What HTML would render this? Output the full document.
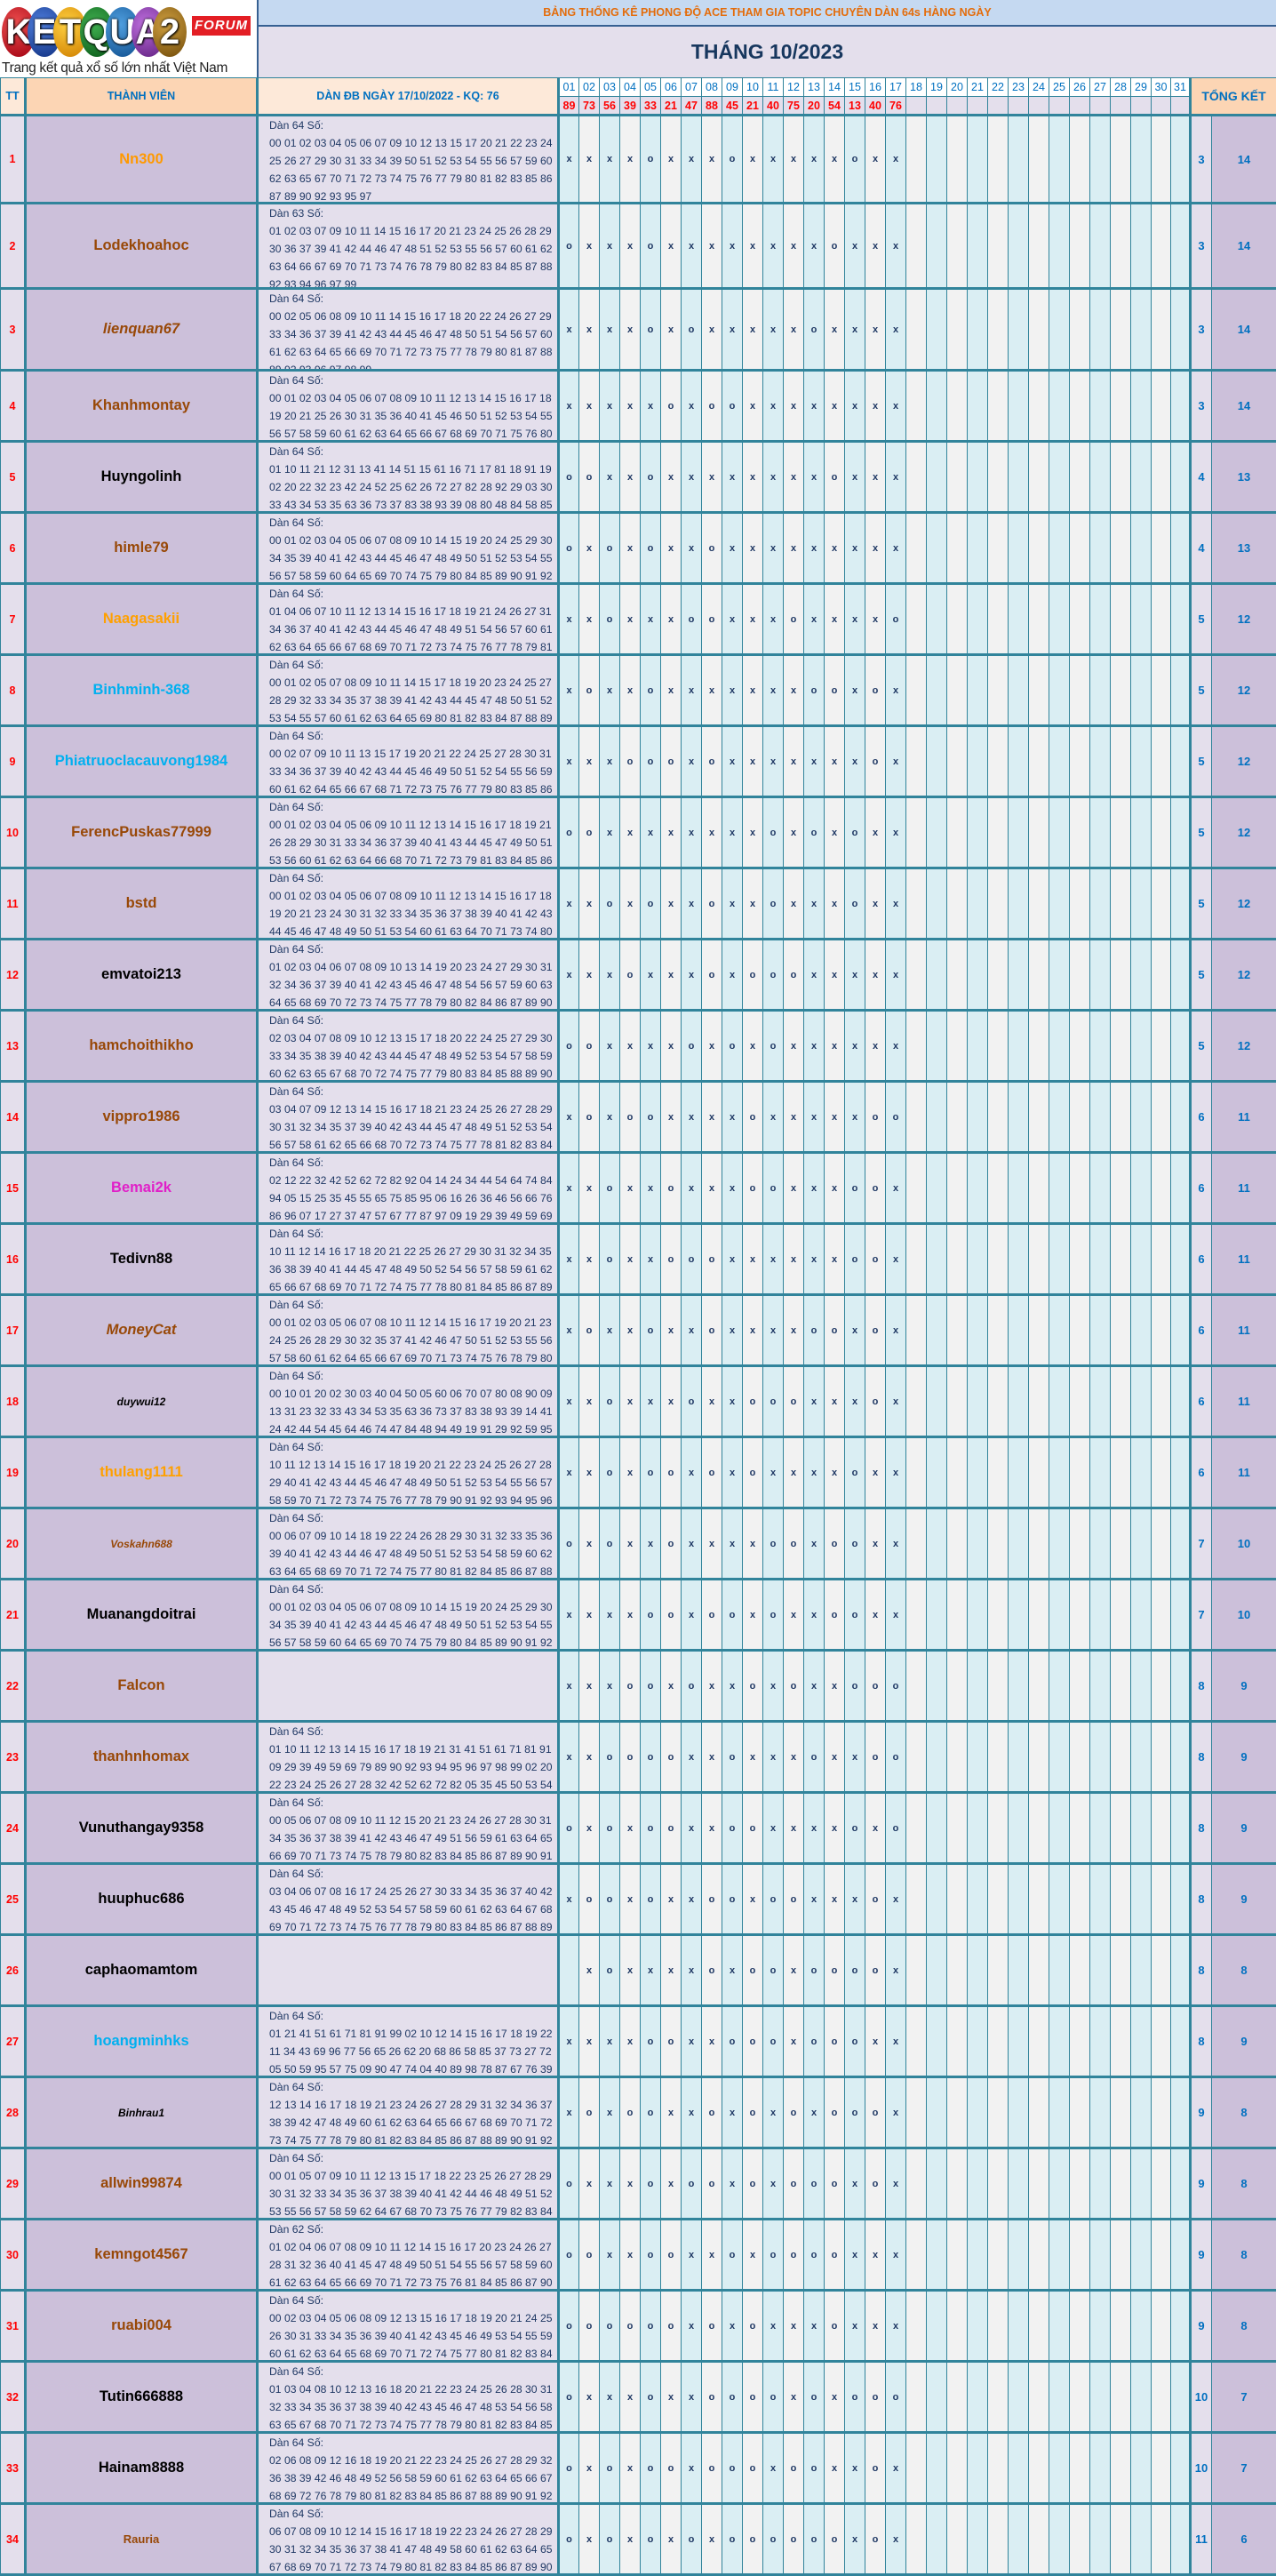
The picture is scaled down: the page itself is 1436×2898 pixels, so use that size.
<!DOCTYPE html>
<html><head><meta charset="utf-8">
<style>
*{margin:0;padding:0;box-sizing:border-box}
body{width:1436px;height:2897px;background:#fff;font-family:"Liberation Sans",sans-serif;position:relative;overflow:hidden}
#logo{position:absolute;left:0;top:0;width:289px;height:87px;background:#fff}
.ball{position:absolute;top:8px;width:38px;height:56px;border-radius:50%;color:#fff;font-weight:bold;font-size:40px;line-height:56px;text-align:center;text-shadow:0 0 3px #000,1px 1px 2px #000}
#forum{position:absolute;left:216px;top:18px;width:66px;height:22px;background:#e31e24;color:#fff;font-style:italic;font-weight:bold;font-size:15px;line-height:22px;text-align:center;letter-spacing:1px}
#tag{position:absolute;left:2px;top:68px;font-size:15.5px;color:#222;white-space:nowrap;letter-spacing:-0.3px}
#topbar{position:absolute;left:289px;top:0;width:1147px;height:30px;background:#c5d9f1;border-bottom:2px solid #366092;border-left:2px solid #366092;color:#e46c0a;font-weight:bold;font-size:12.5px;line-height:28px;text-align:center}
#title{position:absolute;left:289px;top:30px;width:1147px;height:57px;background:#e4dfec;border-left:2px solid #366092;color:#17375e;font-weight:bold;font-size:23px;line-height:57px;text-align:center}
table{position:absolute;left:0;top:87px;width:1436px;border-collapse:collapse;table-layout:fixed}
td{border:1px solid #31849b;text-align:center;vertical-align:middle;overflow:hidden;white-space:nowrap;padding:0}
.h td{font-weight:bold;color:#0070c0;font-size:12.5px;height:21px}
.h .d{background:#fff;font-weight:normal;font-size:12.5px}
.h2 td{background:#e4dfec;color:#ff0000;font-weight:bold;font-size:12.5px;height:21px;border-bottom:3px solid #31849b}
.hT{background:#fde9d9 !important}
.hN{background:#fcd5b4 !important}
.hK{background:#fcd5b4 !important;border-left:3px solid #31849b !important;font-size:14px !important}
tbody tr.r td{border-top:3px solid #31849b;border-bottom:3px solid #31849b}
.tt{background:#e4dfec;color:#ff0000;font-weight:bold;font-size:12.5px;border-right:3px solid #31849b !important}
.nm{background:#ccc0da;font-weight:bold;font-size:16.5px;border-right:3px solid #31849b !important}
.dn{background:#e4dfec;text-align:left;vertical-align:top;border-right:3px solid #31849b !important;color:#1f3864;font-size:12.2px;line-height:20px;padding-left:12px}
.dn div{overflow:hidden}
tr.r td:nth-child(n+4){font-weight:bold;font-size:11px;color:#1f3864}
tr.r td:nth-child(even){background:#daeef3}
tr.r td:nth-child(odd){background:#f2f2f2}
tr.r td.tt{background:#e4dfec}
tr.r td.dn{background:#e4dfec}
tr.r td.nm{background:#ccc0da}
tr.r td.s{background:#e4dfec;color:#0070c0;font-size:13px;border-left:3px solid #31849b}
tr.r td.b{background:#ccc0da;color:#0070c0;font-size:13px}
.or{color:#ff9900}.br{color:#984807}.bk{color:#000}.lb{color:#00b0f0}.mg{color:#e020c8}.yl{color:#ffa000}
.it{font-style:italic}.sm{font-size:12px !important}
</style></head><body>
<div id="logo">
<div class="ball" style="left:2px;background:radial-gradient(circle at 40% 35%,#f05050,#a00010)">K</div>
<div class="ball" style="left:31px;background:radial-gradient(circle at 40% 35%,#5080e0,#103080)">E</div>
<div class="ball" style="left:60px;background:radial-gradient(circle at 40% 35%,#ffd040,#d08000)">T</div>
<div class="ball" style="left:90px;background:radial-gradient(circle at 40% 35%,#40b050,#0a5a18)">Q</div>
<div class="ball" style="left:119px;background:radial-gradient(circle at 40% 35%,#50a0e0,#105090)">U</div>
<div class="ball" style="left:148px;background:radial-gradient(circle at 40% 35%,#c070e0,#602080)">A</div>
<div class="ball" style="left:172px;background:radial-gradient(circle at 40% 35%,#d0a040,#704a08)">2</div>
<div id="forum">FORUM</div>
<div id="tag">Trang kết quả xổ số lớn nhất Việt Nam</div>
</div>
<div id="topbar">BẢNG THỐNG KÊ PHONG ĐỘ ACE THAM GIA TOPIC CHUYÊN DÀN 64s HÀNG NGÀY</div>
<div id="title">THÁNG 10/2023</div>
<table>
<colgroup><col style="width:28px"><col style="width:261px"><col style="width:339px">
<col style="width:23px"><col style="width:23px"><col style="width:23px"><col style="width:23px"><col style="width:23px"><col style="width:23px"><col style="width:23px"><col style="width:23px"><col style="width:23px"><col style="width:23px"><col style="width:23px"><col style="width:23px"><col style="width:23px"><col style="width:23px"><col style="width:23px"><col style="width:23px"><col style="width:23px"><col style="width:23px"><col style="width:23px"><col style="width:23px"><col style="width:23px"><col style="width:23px"><col style="width:23px"><col style="width:23px"><col style="width:23px"><col style="width:23px"><col style="width:23px"><col style="width:23px"><col style="width:23px"><col style="width:22px"><col style="width:22px">
<col style="width:24px"><col style="width:73px"></colgroup>
<tr class="h"><td class="hT" rowspan="2" style="border-right:3px solid #31849b;border-bottom:3px solid #31849b">TT</td><td class="hN" rowspan="2" style="border-right:3px solid #31849b;border-bottom:3px solid #31849b">THÀNH VIÊN</td><td class="hT" rowspan="2" style="border-right:3px solid #31849b;border-bottom:3px solid #31849b">DÀN ĐB NGÀY 17/10/2022 - KQ: 76</td><td class="d">01</td><td class="d">02</td><td class="d">03</td><td class="d">04</td><td class="d">05</td><td class="d">06</td><td class="d">07</td><td class="d">08</td><td class="d">09</td><td class="d">10</td><td class="d">11</td><td class="d">12</td><td class="d">13</td><td class="d">14</td><td class="d">15</td><td class="d">16</td><td class="d">17</td><td class="d">18</td><td class="d">19</td><td class="d">20</td><td class="d">21</td><td class="d">22</td><td class="d">23</td><td class="d">24</td><td class="d">25</td><td class="d">26</td><td class="d">27</td><td class="d">28</td><td class="d">29</td><td class="d">30</td><td class="d">31</td><td class="hK" colspan="2" rowspan="2" style="border-bottom:3px solid #31849b">TỔNG KẾT</td></tr>
<tr class="h2"><td>89</td><td>73</td><td>56</td><td>39</td><td>33</td><td>21</td><td>47</td><td>88</td><td>45</td><td>21</td><td>40</td><td>75</td><td>20</td><td>54</td><td>13</td><td>40</td><td>76</td><td></td><td></td><td></td><td></td><td></td><td></td><td></td><td></td><td></td><td></td><td></td><td></td><td></td><td></td></tr>

<tr class="r" style="height:99px"><td class="tt">1</td><td class="nm or">Nn300</td><td class="dn"><div style="height:96px">Dàn 64 Số:<br>00 01 02 03 04 05 06 07 09 10 12 13 15 17 20 21 22 23 24<br>25 26 27 29 30 31 33 34 39 50 51 52 53 54 55 56 57 59 60<br>62 63 65 67 70 71 72 73 74 75 76 77 79 80 81 82 83 85 86<br>87 89 90 92 93 95 97</div></td><td>x</td><td>x</td><td>x</td><td>x</td><td>o</td><td>x</td><td>x</td><td>x</td><td>o</td><td>x</td><td>x</td><td>x</td><td>x</td><td>x</td><td>o</td><td>x</td><td>x</td><td></td><td></td><td></td><td></td><td></td><td></td><td></td><td></td><td></td><td></td><td></td><td></td><td></td><td></td><td class="s">3</td><td class="b">14</td></tr>
<tr class="r" style="height:96px"><td class="tt">2</td><td class="nm br">Lodekhoahoc</td><td class="dn"><div style="height:93px">Dàn 63 Số:<br>01 02 03 07 09 10 11 14 15 16 17 20 21 23 24 25 26 28 29<br>30 36 37 39 41 42 44 46 47 48 51 52 53 55 56 57 60 61 62<br>63 64 66 67 69 70 71 73 74 76 78 79 80 82 83 84 85 87 88<br>92 93 94 96 97 99</div></td><td>o</td><td>x</td><td>x</td><td>x</td><td>o</td><td>x</td><td>x</td><td>x</td><td>x</td><td>x</td><td>x</td><td>x</td><td>x</td><td>o</td><td>x</td><td>x</td><td>x</td><td></td><td></td><td></td><td></td><td></td><td></td><td></td><td></td><td></td><td></td><td></td><td></td><td></td><td></td><td class="s">3</td><td class="b">14</td></tr>
<tr class="r" style="height:92px"><td class="tt">3</td><td class="nm br it">lienquan67</td><td class="dn"><div style="height:89px">Dàn 64 Số:<br>00 02 05 06 08 09 10 11 14 15 16 17 18 20 22 24 26 27 29<br>33 34 36 37 39 41 42 43 44 45 46 47 48 50 51 54 56 57 60<br>61 62 63 64 65 66 69 70 71 72 73 75 77 78 79 80 81 87 88<br>89 92 93 96 97 98 99</div></td><td>x</td><td>x</td><td>x</td><td>x</td><td>o</td><td>x</td><td>o</td><td>x</td><td>x</td><td>x</td><td>x</td><td>x</td><td>o</td><td>x</td><td>x</td><td>x</td><td>x</td><td></td><td></td><td></td><td></td><td></td><td></td><td></td><td></td><td></td><td></td><td></td><td></td><td></td><td></td><td class="s">3</td><td class="b">14</td></tr>
<tr class="r" style="height:80px"><td class="tt">4</td><td class="nm br">Khanhmontay</td><td class="dn"><div style="height:77px">Dàn 64 Số:<br>00 01 02 03 04 05 06 07 08 09 10 11 12 13 14 15 16 17 18<br>19 20 21 25 26 30 31 35 36 40 41 45 46 50 51 52 53 54 55<br>56 57 58 59 60 61 62 63 64 65 66 67 68 69 70 71 75 76 80</div></td><td>x</td><td>x</td><td>x</td><td>x</td><td>x</td><td>o</td><td>x</td><td>o</td><td>o</td><td>x</td><td>x</td><td>x</td><td>x</td><td>x</td><td>x</td><td>x</td><td>x</td><td></td><td></td><td></td><td></td><td></td><td></td><td></td><td></td><td></td><td></td><td></td><td></td><td></td><td></td><td class="s">3</td><td class="b">14</td></tr>
<tr class="r" style="height:80px"><td class="tt">5</td><td class="nm bk">Huyngolinh</td><td class="dn"><div style="height:77px">Dàn 64 Số:<br>01 10 11 21 12 31 13 41 14 51 15 61 16 71 17 81 18 91 19<br>02 20 22 32 23 42 24 52 25 62 26 72 27 82 28 92 29 03 30<br>33 43 34 53 35 63 36 73 37 83 38 93 39 08 80 48 84 58 85</div></td><td>o</td><td>o</td><td>x</td><td>x</td><td>o</td><td>x</td><td>x</td><td>x</td><td>x</td><td>x</td><td>x</td><td>x</td><td>x</td><td>o</td><td>x</td><td>x</td><td>x</td><td></td><td></td><td></td><td></td><td></td><td></td><td></td><td></td><td></td><td></td><td></td><td></td><td></td><td></td><td class="s">4</td><td class="b">13</td></tr>
<tr class="r" style="height:80px"><td class="tt">6</td><td class="nm br">himle79</td><td class="dn"><div style="height:77px">Dàn 64 Số:<br>00 01 02 03 04 05 06 07 08 09 10 14 15 19 20 24 25 29 30<br>34 35 39 40 41 42 43 44 45 46 47 48 49 50 51 52 53 54 55<br>56 57 58 59 60 64 65 69 70 74 75 79 80 84 85 89 90 91 92</div></td><td>o</td><td>x</td><td>o</td><td>x</td><td>o</td><td>x</td><td>x</td><td>o</td><td>x</td><td>x</td><td>x</td><td>x</td><td>x</td><td>x</td><td>x</td><td>x</td><td>x</td><td></td><td></td><td></td><td></td><td></td><td></td><td></td><td></td><td></td><td></td><td></td><td></td><td></td><td></td><td class="s">4</td><td class="b">13</td></tr>
<tr class="r" style="height:80px"><td class="tt">7</td><td class="nm yl">Naagasakii</td><td class="dn"><div style="height:77px">Dàn 64 Số:<br>01 04 06 07 10 11 12 13 14 15 16 17 18 19 21 24 26 27 31<br>34 36 37 40 41 42 43 44 45 46 47 48 49 51 54 56 57 60 61<br>62 63 64 65 66 67 68 69 70 71 72 73 74 75 76 77 78 79 81</div></td><td>x</td><td>x</td><td>o</td><td>x</td><td>x</td><td>x</td><td>o</td><td>o</td><td>x</td><td>x</td><td>x</td><td>o</td><td>x</td><td>x</td><td>x</td><td>x</td><td>o</td><td></td><td></td><td></td><td></td><td></td><td></td><td></td><td></td><td></td><td></td><td></td><td></td><td></td><td></td><td class="s">5</td><td class="b">12</td></tr>
<tr class="r" style="height:80px"><td class="tt">8</td><td class="nm lb">Binhminh-368</td><td class="dn"><div style="height:77px">Dàn 64 Số:<br>00 01 02 05 07 08 09 10 11 14 15 17 18 19 20 23 24 25 27<br>28 29 32 33 34 35 37 38 39 41 42 43 44 45 47 48 50 51 52<br>53 54 55 57 60 61 62 63 64 65 69 80 81 82 83 84 87 88 89</div></td><td>x</td><td>o</td><td>x</td><td>x</td><td>o</td><td>x</td><td>x</td><td>x</td><td>x</td><td>x</td><td>x</td><td>x</td><td>o</td><td>o</td><td>x</td><td>o</td><td>x</td><td></td><td></td><td></td><td></td><td></td><td></td><td></td><td></td><td></td><td></td><td></td><td></td><td></td><td></td><td class="s">5</td><td class="b">12</td></tr>
<tr class="r" style="height:80px"><td class="tt">9</td><td class="nm lb">Phiatruoclacauvong1984</td><td class="dn"><div style="height:77px">Dàn 64 Số:<br>00 02 07 09 10 11 13 15 17 19 20 21 22 24 25 27 28 30 31<br>33 34 36 37 39 40 42 43 44 45 46 49 50 51 52 54 55 56 59<br>60 61 62 64 65 66 67 68 71 72 73 75 76 77 79 80 83 85 86</div></td><td>x</td><td>x</td><td>x</td><td>o</td><td>o</td><td>o</td><td>x</td><td>o</td><td>x</td><td>x</td><td>x</td><td>x</td><td>x</td><td>x</td><td>x</td><td>o</td><td>x</td><td></td><td></td><td></td><td></td><td></td><td></td><td></td><td></td><td></td><td></td><td></td><td></td><td></td><td></td><td class="s">5</td><td class="b">12</td></tr>
<tr class="r" style="height:80px"><td class="tt">10</td><td class="nm br">FerencPuskas77999</td><td class="dn"><div style="height:77px">Dàn 64 Số:<br>00 01 02 03 04 05 06 09 10 11 12 13 14 15 16 17 18 19 21<br>26 28 29 30 31 33 34 36 37 39 40 41 43 44 45 47 49 50 51<br>53 56 60 61 62 63 64 66 68 70 71 72 73 79 81 83 84 85 86</div></td><td>o</td><td>o</td><td>x</td><td>x</td><td>x</td><td>x</td><td>x</td><td>x</td><td>x</td><td>x</td><td>o</td><td>x</td><td>o</td><td>x</td><td>o</td><td>x</td><td>x</td><td></td><td></td><td></td><td></td><td></td><td></td><td></td><td></td><td></td><td></td><td></td><td></td><td></td><td></td><td class="s">5</td><td class="b">12</td></tr>
<tr class="r" style="height:80px"><td class="tt">11</td><td class="nm br">bstd</td><td class="dn"><div style="height:77px">Dàn 64 Số:<br>00 01 02 03 04 05 06 07 08 09 10 11 12 13 14 15 16 17 18<br>19 20 21 23 24 30 31 32 33 34 35 36 37 38 39 40 41 42 43<br>44 45 46 47 48 49 50 51 53 54 60 61 63 64 70 71 73 74 80</div></td><td>x</td><td>x</td><td>o</td><td>x</td><td>o</td><td>x</td><td>x</td><td>o</td><td>x</td><td>x</td><td>o</td><td>x</td><td>x</td><td>x</td><td>o</td><td>x</td><td>x</td><td></td><td></td><td></td><td></td><td></td><td></td><td></td><td></td><td></td><td></td><td></td><td></td><td></td><td></td><td class="s">5</td><td class="b">12</td></tr>
<tr class="r" style="height:80px"><td class="tt">12</td><td class="nm bk">emvatoi213</td><td class="dn"><div style="height:77px">Dàn 64 Số:<br>01 02 03 04 06 07 08 09 10 13 14 19 20 23 24 27 29 30 31<br>32 34 36 37 39 40 41 42 43 45 46 47 48 54 56 57 59 60 63<br>64 65 68 69 70 72 73 74 75 77 78 79 80 82 84 86 87 89 90</div></td><td>x</td><td>x</td><td>x</td><td>o</td><td>x</td><td>x</td><td>x</td><td>o</td><td>x</td><td>o</td><td>o</td><td>o</td><td>x</td><td>x</td><td>x</td><td>x</td><td>x</td><td></td><td></td><td></td><td></td><td></td><td></td><td></td><td></td><td></td><td></td><td></td><td></td><td></td><td></td><td class="s">5</td><td class="b">12</td></tr>
<tr class="r" style="height:80px"><td class="tt">13</td><td class="nm br">hamchoithikho</td><td class="dn"><div style="height:77px">Dàn 64 Số:<br>02 03 04 07 08 09 10 12 13 15 17 18 20 22 24 25 27 29 30<br>33 34 35 38 39 40 42 43 44 45 47 48 49 52 53 54 57 58 59<br>60 62 63 65 67 68 70 72 74 75 77 79 80 83 84 85 88 89 90</div></td><td>o</td><td>o</td><td>x</td><td>x</td><td>x</td><td>x</td><td>o</td><td>x</td><td>o</td><td>x</td><td>o</td><td>x</td><td>x</td><td>x</td><td>x</td><td>x</td><td>x</td><td></td><td></td><td></td><td></td><td></td><td></td><td></td><td></td><td></td><td></td><td></td><td></td><td></td><td></td><td class="s">5</td><td class="b">12</td></tr>
<tr class="r" style="height:80px"><td class="tt">14</td><td class="nm br">vippro1986</td><td class="dn"><div style="height:77px">Dàn 64 Số:<br>03 04 07 09 12 13 14 15 16 17 18 21 23 24 25 26 27 28 29<br>30 31 32 34 35 37 39 40 42 43 44 45 47 48 49 51 52 53 54<br>56 57 58 61 62 65 66 68 70 72 73 74 75 77 78 81 82 83 84</div></td><td>x</td><td>o</td><td>x</td><td>o</td><td>o</td><td>x</td><td>x</td><td>x</td><td>x</td><td>o</td><td>x</td><td>x</td><td>x</td><td>x</td><td>x</td><td>o</td><td>o</td><td></td><td></td><td></td><td></td><td></td><td></td><td></td><td></td><td></td><td></td><td></td><td></td><td></td><td></td><td class="s">6</td><td class="b">11</td></tr>
<tr class="r" style="height:80px"><td class="tt">15</td><td class="nm mg">Bemai2k</td><td class="dn"><div style="height:77px">Dàn 64 Số:<br>02 12 22 32 42 52 62 72 82 92 04 14 24 34 44 54 64 74 84<br>94 05 15 25 35 45 55 65 75 85 95 06 16 26 36 46 56 66 76<br>86 96 07 17 27 37 47 57 67 77 87 97 09 19 29 39 49 59 69</div></td><td>x</td><td>x</td><td>o</td><td>x</td><td>x</td><td>o</td><td>x</td><td>x</td><td>x</td><td>o</td><td>o</td><td>x</td><td>x</td><td>x</td><td>o</td><td>o</td><td>x</td><td></td><td></td><td></td><td></td><td></td><td></td><td></td><td></td><td></td><td></td><td></td><td></td><td></td><td></td><td class="s">6</td><td class="b">11</td></tr>
<tr class="r" style="height:80px"><td class="tt">16</td><td class="nm bk">Tedivn88</td><td class="dn"><div style="height:77px">Dàn 64 Số:<br>10 11 12 14 16 17 18 20 21 22 25 26 27 29 30 31 32 34 35<br>36 38 39 40 41 44 45 47 48 49 50 52 54 56 57 58 59 61 62<br>65 66 67 68 69 70 71 72 74 75 77 78 80 81 84 85 86 87 89</div></td><td>x</td><td>x</td><td>o</td><td>x</td><td>x</td><td>o</td><td>o</td><td>o</td><td>x</td><td>x</td><td>x</td><td>x</td><td>x</td><td>x</td><td>o</td><td>o</td><td>x</td><td></td><td></td><td></td><td></td><td></td><td></td><td></td><td></td><td></td><td></td><td></td><td></td><td></td><td></td><td class="s">6</td><td class="b">11</td></tr>
<tr class="r" style="height:80px"><td class="tt">17</td><td class="nm br it">MoneyCat</td><td class="dn"><div style="height:77px">Dàn 64 Số:<br>00 01 02 03 05 06 07 08 10 11 12 14 15 16 17 19 20 21 23<br>24 25 26 28 29 30 32 35 37 41 42 46 47 50 51 52 53 55 56<br>57 58 60 61 62 64 65 66 67 69 70 71 73 74 75 76 78 79 80</div></td><td>x</td><td>o</td><td>x</td><td>x</td><td>o</td><td>x</td><td>x</td><td>o</td><td>x</td><td>x</td><td>x</td><td>x</td><td>o</td><td>o</td><td>x</td><td>o</td><td>x</td><td></td><td></td><td></td><td></td><td></td><td></td><td></td><td></td><td></td><td></td><td></td><td></td><td></td><td></td><td class="s">6</td><td class="b">11</td></tr>
<tr class="r" style="height:80px"><td class="tt">18</td><td class="nm bk it sm">duywui12</td><td class="dn"><div style="height:77px">Dàn 64 Số:<br>00 10 01 20 02 30 03 40 04 50 05 60 06 70 07 80 08 90 09<br>13 31 23 32 33 43 34 53 35 63 36 73 37 83 38 93 39 14 41<br>24 42 44 54 45 64 46 74 47 84 48 94 49 19 91 29 92 59 95</div></td><td>x</td><td>x</td><td>o</td><td>x</td><td>x</td><td>x</td><td>o</td><td>x</td><td>x</td><td>o</td><td>o</td><td>o</td><td>x</td><td>x</td><td>x</td><td>o</td><td>x</td><td></td><td></td><td></td><td></td><td></td><td></td><td></td><td></td><td></td><td></td><td></td><td></td><td></td><td></td><td class="s">6</td><td class="b">11</td></tr>
<tr class="r" style="height:80px"><td class="tt">19</td><td class="nm yl">thulang1111</td><td class="dn"><div style="height:77px">Dàn 64 Số:<br>10 11 12 13 14 15 16 17 18 19 20 21 22 23 24 25 26 27 28<br>29 40 41 42 43 44 45 46 47 48 49 50 51 52 53 54 55 56 57<br>58 59 70 71 72 73 74 75 76 77 78 79 90 91 92 93 94 95 96</div></td><td>x</td><td>x</td><td>o</td><td>x</td><td>o</td><td>o</td><td>x</td><td>o</td><td>x</td><td>o</td><td>x</td><td>x</td><td>x</td><td>x</td><td>o</td><td>x</td><td>x</td><td></td><td></td><td></td><td></td><td></td><td></td><td></td><td></td><td></td><td></td><td></td><td></td><td></td><td></td><td class="s">6</td><td class="b">11</td></tr>
<tr class="r" style="height:80px"><td class="tt">20</td><td class="nm br it sm">Voskahn688</td><td class="dn"><div style="height:77px">Dàn 64 Số:<br>00 06 07 09 10 14 18 19 22 24 26 28 29 30 31 32 33 35 36<br>39 40 41 42 43 44 46 47 48 49 50 51 52 53 54 58 59 60 62<br>63 64 65 68 69 70 71 72 74 75 77 80 81 82 84 85 86 87 88</div></td><td>o</td><td>x</td><td>o</td><td>x</td><td>x</td><td>o</td><td>x</td><td>x</td><td>x</td><td>x</td><td>o</td><td>o</td><td>x</td><td>o</td><td>o</td><td>x</td><td>x</td><td></td><td></td><td></td><td></td><td></td><td></td><td></td><td></td><td></td><td></td><td></td><td></td><td></td><td></td><td class="s">7</td><td class="b">10</td></tr>
<tr class="r" style="height:80px"><td class="tt">21</td><td class="nm bk">Muanangdoitrai</td><td class="dn"><div style="height:77px">Dàn 64 Số:<br>00 01 02 03 04 05 06 07 08 09 10 14 15 19 20 24 25 29 30<br>34 35 39 40 41 42 43 44 45 46 47 48 49 50 51 52 53 54 55<br>56 57 58 59 60 64 65 69 70 74 75 79 80 84 85 89 90 91 92</div></td><td>x</td><td>x</td><td>x</td><td>x</td><td>o</td><td>o</td><td>x</td><td>o</td><td>o</td><td>x</td><td>o</td><td>x</td><td>x</td><td>o</td><td>o</td><td>x</td><td>x</td><td></td><td></td><td></td><td></td><td></td><td></td><td></td><td></td><td></td><td></td><td></td><td></td><td></td><td></td><td class="s">7</td><td class="b">10</td></tr>
<tr class="r" style="height:80px"><td class="tt">22</td><td class="nm br">Falcon</td><td class="dn"><div style="height:77px"></div></td><td>x</td><td>x</td><td>x</td><td>o</td><td>o</td><td>x</td><td>o</td><td>x</td><td>x</td><td>o</td><td>x</td><td>o</td><td>x</td><td>x</td><td>o</td><td>o</td><td>o</td><td></td><td></td><td></td><td></td><td></td><td></td><td></td><td></td><td></td><td></td><td></td><td></td><td></td><td></td><td class="s">8</td><td class="b">9</td></tr>
<tr class="r" style="height:80px"><td class="tt">23</td><td class="nm br">thanhnhomax</td><td class="dn"><div style="height:77px">Dàn 64 Số:<br>01 10 11 12 13 14 15 16 17 18 19 21 31 41 51 61 71 81 91<br>09 29 39 49 59 69 79 89 90 92 93 94 95 96 97 98 99 02 20<br>22 23 24 25 26 27 28 32 42 52 62 72 82 05 35 45 50 53 54</div></td><td>x</td><td>x</td><td>o</td><td>o</td><td>o</td><td>o</td><td>x</td><td>x</td><td>o</td><td>x</td><td>x</td><td>x</td><td>o</td><td>x</td><td>x</td><td>o</td><td>o</td><td></td><td></td><td></td><td></td><td></td><td></td><td></td><td></td><td></td><td></td><td></td><td></td><td></td><td></td><td class="s">8</td><td class="b">9</td></tr>
<tr class="r" style="height:80px"><td class="tt">24</td><td class="nm bk">Vunuthangay9358</td><td class="dn"><div style="height:77px">Dàn 64 Số:<br>00 05 06 07 08 09 10 11 12 15 20 21 23 24 26 27 28 30 31<br>34 35 36 37 38 39 41 42 43 46 47 49 51 56 59 61 63 64 65<br>66 69 70 71 73 74 75 78 79 80 82 83 84 85 86 87 89 90 91</div></td><td>o</td><td>x</td><td>o</td><td>x</td><td>o</td><td>o</td><td>x</td><td>x</td><td>o</td><td>o</td><td>x</td><td>x</td><td>x</td><td>x</td><td>o</td><td>x</td><td>o</td><td></td><td></td><td></td><td></td><td></td><td></td><td></td><td></td><td></td><td></td><td></td><td></td><td></td><td></td><td class="s">8</td><td class="b">9</td></tr>
<tr class="r" style="height:80px"><td class="tt">25</td><td class="nm bk">huuphuc686</td><td class="dn"><div style="height:77px">Dàn 64 Số:<br>03 04 06 07 08 16 17 24 25 26 27 30 33 34 35 36 37 40 42<br>43 45 46 47 48 49 52 53 54 57 58 59 60 61 62 63 64 67 68<br>69 70 71 72 73 74 75 76 77 78 79 80 83 84 85 86 87 88 89</div></td><td>x</td><td>o</td><td>o</td><td>x</td><td>o</td><td>x</td><td>x</td><td>o</td><td>o</td><td>x</td><td>o</td><td>o</td><td>x</td><td>x</td><td>x</td><td>o</td><td>x</td><td></td><td></td><td></td><td></td><td></td><td></td><td></td><td></td><td></td><td></td><td></td><td></td><td></td><td></td><td class="s">8</td><td class="b">9</td></tr>
<tr class="r" style="height:80px"><td class="tt">26</td><td class="nm bk">caphaomamtom</td><td class="dn"><div style="height:77px"></div></td><td></td><td>x</td><td>o</td><td>x</td><td>x</td><td>x</td><td>x</td><td>o</td><td>x</td><td>o</td><td>o</td><td>x</td><td>o</td><td>o</td><td>o</td><td>o</td><td>x</td><td></td><td></td><td></td><td></td><td></td><td></td><td></td><td></td><td></td><td></td><td></td><td></td><td></td><td></td><td class="s">8</td><td class="b">8</td></tr>
<tr class="r" style="height:80px"><td class="tt">27</td><td class="nm lb">hoangminhks</td><td class="dn"><div style="height:77px">Dàn 64 Số:<br>01 21 41 51 61 71 81 91 99 02 10 12 14 15 16 17 18 19 22<br>11 34 43 69 96 77 56 65 26 62 20 68 86 58 85 37 73 27 72<br>05 50 59 95 57 75 09 90 47 74 04 40 89 98 78 87 67 76 39</div></td><td>x</td><td>x</td><td>x</td><td>x</td><td>o</td><td>o</td><td>x</td><td>x</td><td>o</td><td>o</td><td>o</td><td>x</td><td>o</td><td>o</td><td>o</td><td>x</td><td>x</td><td></td><td></td><td></td><td></td><td></td><td></td><td></td><td></td><td></td><td></td><td></td><td></td><td></td><td></td><td class="s">8</td><td class="b">9</td></tr>
<tr class="r" style="height:80px"><td class="tt">28</td><td class="nm bk it sm" style="font-size:13px">Binhrau1</td><td class="dn"><div style="height:77px">Dàn 64 Số:<br>12 13 14 16 17 18 19 21 23 24 26 27 28 29 31 32 34 36 37<br>38 39 42 47 48 49 60 61 62 63 64 65 66 67 68 69 70 71 72<br>73 74 75 77 78 79 80 81 82 83 84 85 86 87 88 89 90 91 92</div></td><td>x</td><td>o</td><td>x</td><td>o</td><td>o</td><td>x</td><td>x</td><td>o</td><td>x</td><td>o</td><td>x</td><td>o</td><td>x</td><td>o</td><td>o</td><td>o</td><td>x</td><td></td><td></td><td></td><td></td><td></td><td></td><td></td><td></td><td></td><td></td><td></td><td></td><td></td><td></td><td class="s">9</td><td class="b">8</td></tr>
<tr class="r" style="height:80px"><td class="tt">29</td><td class="nm br">allwin99874</td><td class="dn"><div style="height:77px">Dàn 64 Số:<br>00 01 05 07 09 10 11 12 13 15 17 18 22 23 25 26 27 28 29<br>30 31 32 33 34 35 36 37 38 39 40 41 42 44 46 48 49 51 52<br>53 55 56 57 58 59 62 64 67 68 70 73 75 76 77 79 82 83 84</div></td><td>o</td><td>x</td><td>x</td><td>x</td><td>o</td><td>x</td><td>o</td><td>o</td><td>x</td><td>o</td><td>x</td><td>o</td><td>o</td><td>o</td><td>x</td><td>o</td><td>x</td><td></td><td></td><td></td><td></td><td></td><td></td><td></td><td></td><td></td><td></td><td></td><td></td><td></td><td></td><td class="s">9</td><td class="b">8</td></tr>
<tr class="r" style="height:80px"><td class="tt">30</td><td class="nm br">kemngot4567</td><td class="dn"><div style="height:77px">Dàn 62 Số:<br>01 02 04 06 07 08 09 10 11 12 14 15 16 17 20 23 24 26 27<br>28 31 32 36 40 41 45 47 48 49 50 51 54 55 56 57 58 59 60<br>61 62 63 64 65 66 69 70 71 72 73 75 76 81 84 85 86 87 90</div></td><td>o</td><td>o</td><td>x</td><td>x</td><td>o</td><td>o</td><td>x</td><td>x</td><td>o</td><td>x</td><td>o</td><td>o</td><td>o</td><td>o</td><td>x</td><td>x</td><td>x</td><td></td><td></td><td></td><td></td><td></td><td></td><td></td><td></td><td></td><td></td><td></td><td></td><td></td><td></td><td class="s">9</td><td class="b">8</td></tr>
<tr class="r" style="height:80px"><td class="tt">31</td><td class="nm br">ruabi004</td><td class="dn"><div style="height:77px">Dàn 64 Số:<br>00 02 03 04 05 06 08 09 12 13 15 16 17 18 19 20 21 24 25<br>26 30 31 33 34 35 36 39 40 41 42 43 45 46 49 53 54 55 59<br>60 61 62 63 64 65 68 69 70 71 72 74 75 77 80 81 82 83 84</div></td><td>o</td><td>o</td><td>o</td><td>o</td><td>o</td><td>o</td><td>x</td><td>o</td><td>x</td><td>o</td><td>x</td><td>x</td><td>x</td><td>o</td><td>x</td><td>x</td><td>x</td><td></td><td></td><td></td><td></td><td></td><td></td><td></td><td></td><td></td><td></td><td></td><td></td><td></td><td></td><td class="s">9</td><td class="b">8</td></tr>
<tr class="r" style="height:80px"><td class="tt">32</td><td class="nm bk">Tutin666888</td><td class="dn"><div style="height:77px">Dàn 64 Số:<br>01 03 04 08 10 12 13 16 18 20 21 22 23 24 25 26 28 30 31<br>32 33 34 35 36 37 38 39 40 42 43 45 46 47 48 53 54 56 58<br>63 65 67 68 70 71 72 73 74 75 77 78 79 80 81 82 83 84 85</div></td><td>o</td><td>x</td><td>x</td><td>x</td><td>o</td><td>x</td><td>x</td><td>o</td><td>o</td><td>o</td><td>o</td><td>x</td><td>o</td><td>x</td><td>o</td><td>o</td><td>o</td><td></td><td></td><td></td><td></td><td></td><td></td><td></td><td></td><td></td><td></td><td></td><td></td><td></td><td></td><td class="s">10</td><td class="b">7</td></tr>
<tr class="r" style="height:80px"><td class="tt">33</td><td class="nm bk">Hainam8888</td><td class="dn"><div style="height:77px">Dàn 64 Số:<br>02 06 08 09 12 16 18 19 20 21 22 23 24 25 26 27 28 29 32<br>36 38 39 42 46 48 49 52 56 58 59 60 61 62 63 64 65 66 67<br>68 69 72 76 78 79 80 81 82 83 84 85 86 87 88 89 90 91 92</div></td><td>o</td><td>x</td><td>o</td><td>x</td><td>o</td><td>o</td><td>x</td><td>o</td><td>o</td><td>o</td><td>x</td><td>o</td><td>o</td><td>x</td><td>x</td><td>o</td><td>x</td><td></td><td></td><td></td><td></td><td></td><td></td><td></td><td></td><td></td><td></td><td></td><td></td><td></td><td></td><td class="s">10</td><td class="b">7</td></tr>
<tr class="r" style="height:80px"><td class="tt">34</td><td class="nm br" style="font-size:13px">Rauria</td><td class="dn"><div style="height:77px">Dàn 64 Số:<br>06 07 08 09 10 12 14 15 16 17 18 19 22 23 24 26 27 28 29<br>30 31 32 34 35 36 37 38 41 47 48 49 58 60 61 62 63 64 65<br>67 68 69 70 71 72 73 74 79 80 81 82 83 84 85 86 87 89 90</div></td><td>o</td><td>x</td><td>o</td><td>x</td><td>o</td><td>x</td><td>o</td><td>x</td><td>o</td><td>o</td><td>o</td><td>o</td><td>o</td><td>o</td><td>x</td><td>o</td><td>x</td><td></td><td></td><td></td><td></td><td></td><td></td><td></td><td></td><td></td><td></td><td></td><td></td><td></td><td></td><td class="s">11</td><td class="b">6</td></tr>
</table>
</body></html>
